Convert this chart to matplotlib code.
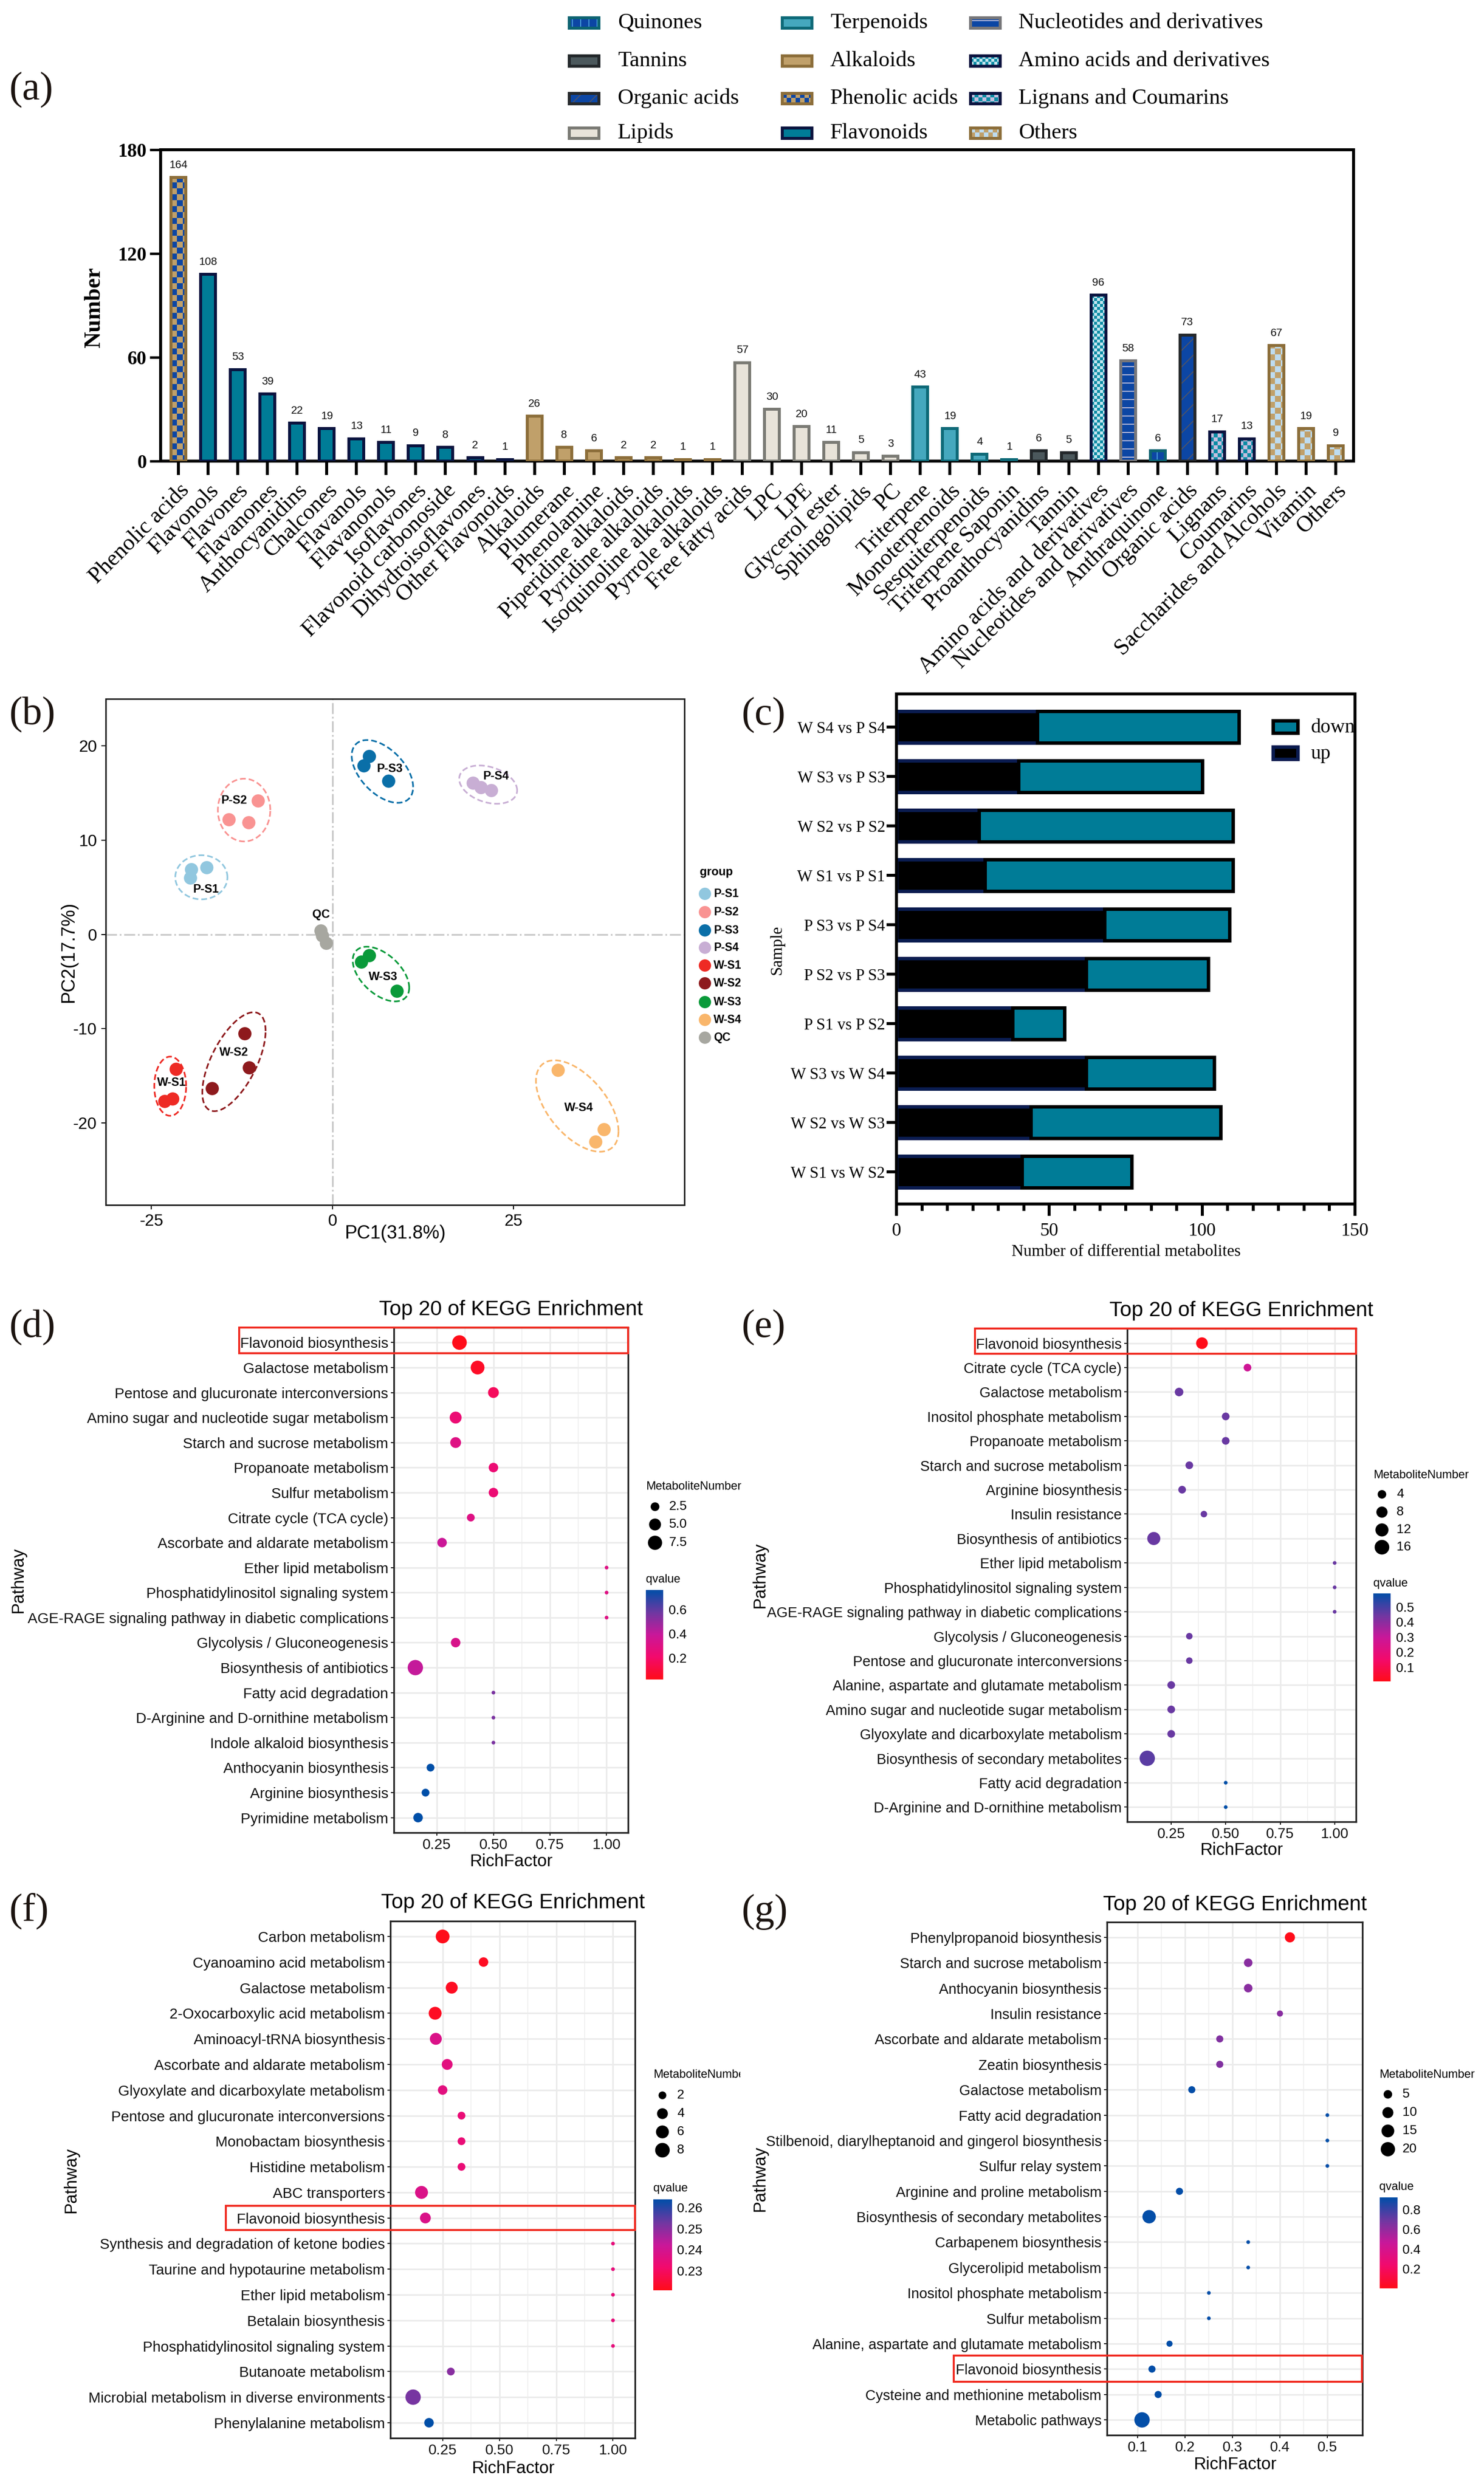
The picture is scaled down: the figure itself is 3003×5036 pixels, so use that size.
import numpy as np
import matplotlib
matplotlib.use("Agg")
import matplotlib.pyplot as plt
from matplotlib.colors import LinearSegmentedColormap
from matplotlib.patches import Rectangle
from matplotlib.transforms import Bbox, ScaledTranslation

W, H = 3003, 5036
SERIF = "Liberation Serif"
SANS = "Liberation Sans"
plt.rcParams["font.family"] = SANS
plt.rcParams["hatch.linewidth"] = 1.3
plt.rcParams["axes.unicode_minus"] = False

# panel (a)
cat_names = ["Phenolic acids", "Flavonols", "Flavones", "Flavanones", "Anthocyanidins", "Chalcones",
             "Flavanols", "Flavanonols", "Isoflavones", "Flavonoid carbonoside", "Dihydroisoflavones",
             "Other Flavonoids", "Alkaloids", "Plumerane", "Phenolamine", "Piperidine alkaloids",
             "Pyridine alkaloids", "Isoquinoline alkaloids", "Pyrrole alkaloids", "Free fatty acids",
             "LPC", "LPE", "Glycerol ester", "Sphingolipids", "PC", "Triterpene", "Monoterpenoids",
             "Sesquiterpenoids", "Triterpene Saponin", "Proanthocyanidins", "Tannin",
             "Amino acids and derivatives", "Nucleotides and derivatives", "Anthraquinone",
             "Organic acids", "Lignans", "Coumarins", "Saccharides and Alcohols", "Vitamin", "Others"]
cat_values = [164, 108, 53, 39, 22, 19, 13, 11, 9, 8, 2, 1, 26, 8, 6, 2, 2, 1, 1, 57,
              30, 20, 11, 5, 3, 43, 19, 4, 1, 6, 5, 96, 58, 6, 73, 17, 13, 67, 19, 9]
cat_class = ["Phenolic acids"] + ["Flavonoids"] * 11 + ["Alkaloids"] * 7 + ["Lipids"] * 6 + \
            ["Terpenoids"] * 4 + ["Tannins"] * 2 + ["Amino acids and derivatives",
            "Nucleotides and derivatives", "Quinones", "Organic acids"] + \
            ["Lignans and Coumarins"] * 2 + ["Others"] * 3

# face, edge, hatch, hatch colour, checker colour, checker cell (px)
class_style = {
    "Quinones": ("#0C46A4", "#0D6472", "|", "#4FA8E0", None, 0),
    "Tannins": ("#4B585C", "#23282B", None, None, None, 0),
    "Organic acids": ("#0C46A4", "#26292C", "/", "#555560", None, 0),
    "Lipids": ("#E8E3D9", "#7A7A74", None, None, None, 0),
    "Terpenoids": ("#45A8BE", "#0E6A78", None, None, None, 0),
    "Alkaloids": ("#C0A06A", "#8C6E3A", None, None, None, 0),
    "Phenolic acids": ("#C0A06A", "#8C6E3A", None, None, "#0C46A4", 12),
    "Flavonoids": ("#007C97", "#0A1440", None, None, None, 0),
    "Nucleotides and derivatives": ("#0C46A4", "#77777A", "-", "#D8D0E4", None, 0),
    "Amino acids and derivatives": ("#0A8CA5", "#0A1440", None, None, "#C6E6F0", 6),
    "Lignans and Coumarins": ("#0A8CA5", "#0A1440", None, None, "#C6BEDE", 8),
    "Others": ("#C0A06A", "#8C6E3A", None, None, "#BEDCF0", 12),
}
legend_a = [["Quinones", "Tannins", "Organic acids", "Lipids"],
            ["Terpenoids", "Alkaloids", "Phenolic acids", "Flavonoids"],
            ["Nucleotides and derivatives", "Amino acids and derivatives", "Lignans and Coumarins", "Others"]]

# panel (b)
pca_groups = ["P-S1", "P-S2", "P-S3", "P-S4", "W-S1", "W-S2", "W-S3", "W-S4", "QC"]
pca_colors = ["#91C7DF", "#F99392", "#0A6FA8", "#C8AED4", "#EE2A24", "#8E1A1D", "#0A9A3A", "#F9B66B", "#A7A7A0"]
pca_x = [[-19.5, -17.4, -19.6], [-10.3, -14.3, -11.6], [5.1, 4.3, 7.7], [19.4, 20.5, 21.9],
         [-21.6, -22.1, -23.2], [-12.1, -11.5, -16.6], [5.1, 4.0, 8.9], [31.1, 37.5, 36.3], [-1.6, -1.4, -0.85]]
pca_y = [[6.9, 7.1, 6.0], [14.2, 12.2, 11.9], [18.9, 17.9, 16.3], [16.1, 15.6, 15.3],
         [-14.3, -17.4, -17.7], [-10.5, -14.1, -16.3], [-2.2, -2.9, -6.0], [-14.4, -20.7, -22.0], [0.4, -0.1, -0.9]]
# ellipse centre, half width, half height, correlation
ell_cx = [-18.1, -12.2, 6.9, 21.5, -22.4, -13.6, 6.7, 33.8]
ell_cy = [6.07, 13.2, 17.3, 15.9, -16.1, -13.5, -4.2, -18.2]
ell_w = [3.6, 3.62, 4.24, 4.0, 2.2, 4.37, 3.9, 5.7]
ell_h = [2.34, 3.33, 3.33, 2.03, 3.14, 5.25, 2.9, 4.85]
ell_rho = [0.0, 0.0, -0.5, -0.3, 0.0, 0.62, -0.5, -0.55]
label_x = [-17.5, -13.6, 7.9, 22.6, -22.2, -13.6, 7.0, 34.0, -1.6]
label_y = [4.8, 14.2, 17.6, 16.8, -15.7, -12.5, -4.5, -18.4, 2.1]

# panel (c)
cmp_names = ["W S1 vs W S2", "W S2 vs W S3", "W S3 vs W S4", "P S1 vs P S2", "P S2 vs P S3",
             "P S3 vs P S4", "W S1 vs P S1", "W S2 vs P S2", "W S3 vs P S3", "W S4 vs P S4"]
cmp_up = [41, 44, 62, 38, 62, 68, 29, 27, 40, 46]
cmp_down = [36, 62, 42, 17, 40, 41, 81, 83, 60, 66]

# panels (d)-(g), pathways listed top to bottom
d_names = ["Flavonoid biosynthesis", "Galactose metabolism", "Pentose and glucuronate interconversions",
           "Amino sugar and nucleotide sugar metabolism", "Starch and sucrose metabolism", "Propanoate metabolism",
           "Sulfur metabolism", "Citrate cycle (TCA cycle)", "Ascorbate and aldarate metabolism",
           "Ether lipid metabolism", "Phosphatidylinositol signaling system",
           "AGE-RAGE signaling pathway in diabetic complications", "Glycolysis / Gluconeogenesis",
           "Biosynthesis of antibiotics", "Fatty acid degradation", "D-Arginine and D-ornithine metabolism",
           "Indole alkaloid biosynthesis", "Anthocyanin biosynthesis", "Arginine biosynthesis", "Pyrimidine metabolism"]
d_rich = [0.35, 0.43, 0.5, 0.333, 0.333, 0.5, 0.5, 0.4, 0.273, 1.0, 1.0, 1.0, 0.333, 0.155, 0.5, 0.5, 0.5, 0.222, 0.2, 0.167]
d_num = [8, 7, 4, 5, 4, 3, 3, 2, 3, 1, 1, 1, 3, 9, 1, 1, 1, 2, 2, 3]
d_q = [0.02, 0.05, 0.17, 0.24, 0.30, 0.24, 0.24, 0.30, 0.38, 0.30, 0.30, 0.30, 0.33, 0.40, 0.55, 0.55, 0.55, 0.76, 0.76, 0.76]

e_names = ["Flavonoid biosynthesis", "Citrate cycle (TCA cycle)", "Galactose metabolism", "Inositol phosphate metabolism",
           "Propanoate metabolism", "Starch and sucrose metabolism", "Arginine biosynthesis", "Insulin resistance",
           "Biosynthesis of antibiotics", "Ether lipid metabolism", "Phosphatidylinositol signaling system",
           "AGE-RAGE signaling pathway in diabetic complications", "Glycolysis / Gluconeogenesis",
           "Pentose and glucuronate interconversions", "Alanine, aspartate and glutamate metabolism",
           "Amino sugar and nucleotide sugar metabolism", "Glyoxylate and dicarboxylate metabolism",
           "Biosynthesis of secondary metabolites", "Fatty acid degradation", "D-Arginine and D-ornithine metabolism"]
e_rich = [0.391, 0.6, 0.286, 0.5, 0.5, 0.333, 0.3, 0.4, 0.17, 1.0, 1.0, 1.0, 0.333, 0.333, 0.25, 0.25, 0.25, 0.14, 0.5, 0.5]
e_num = [9, 3, 4, 3, 3, 3, 3, 2, 12, 1, 1, 1, 2, 2, 3, 3, 3, 18, 1, 1]
e_q = [0.005, 0.28, 0.45, 0.45, 0.45, 0.45, 0.45, 0.45, 0.45, 0.45, 0.45, 0.45, 0.45, 0.45, 0.45, 0.45, 0.45, 0.47, 0.59, 0.59]

f_names = ["Carbon metabolism", "Cyanoamino acid metabolism", "Galactose metabolism", "2-Oxocarboxylic acid metabolism",
           "Aminoacyl-tRNA biosynthesis", "Ascorbate and aldarate metabolism", "Glyoxylate and dicarboxylate metabolism",
           "Pentose and glucuronate interconversions", "Monobactam biosynthesis", "Histidine metabolism", "ABC transporters",
           "Flavonoid biosynthesis", "Synthesis and degradation of ketone bodies", "Taurine and hypotaurine metabolism",
           "Ether lipid metabolism", "Betalain biosynthesis", "Phosphatidylinositol signaling system",
           "Butanoate metabolism", "Microbial metabolism in diverse environments", "Phenylalanine metabolism"]
f_rich = [0.25, 0.43, 0.29, 0.217, 0.22, 0.27, 0.25, 0.333, 0.333, 0.333, 0.157, 0.174, 1.0, 1.0, 1.0, 1.0, 1.0, 0.286, 0.12, 0.19]
f_num = [7, 3, 5, 6, 5, 4, 3, 2, 2, 2, 6, 4, 1, 1, 1, 1, 1, 2, 9, 3]
f_q = [0.221, 0.222, 0.222, 0.222, 0.238, 0.236, 0.236, 0.234, 0.234, 0.234, 0.238, 0.238, 0.235, 0.235, 0.235, 0.235, 0.235, 0.25, 0.252, 0.264]

g_names = ["Phenylpropanoid biosynthesis", "Starch and sucrose metabolism", "Anthocyanin biosynthesis", "Insulin resistance",
           "Ascorbate and aldarate metabolism", "Zeatin biosynthesis", "Galactose metabolism", "Fatty acid degradation",
           "Stilbenoid, diarylheptanoid and gingerol biosynthesis", "Sulfur relay system", "Arginine and proline metabolism",
           "Biosynthesis of secondary metabolites", "Carbapenem biosynthesis", "Glycerolipid metabolism",
           "Inositol phosphate metabolism", "Sulfur metabolism", "Alanine, aspartate and glutamate metabolism",
           "Flavonoid biosynthesis", "Cysteine and methionine metabolism", "Metabolic pathways"]
g_rich = [0.421, 0.333, 0.333, 0.4, 0.273, 0.273, 0.214, 0.5, 0.5, 0.5, 0.188, 0.124, 0.333, 0.333, 0.25, 0.25, 0.167, 0.13, 0.143, 0.109]
g_num = [8, 5, 5, 2, 3, 3, 3, 1, 1, 1, 3, 17, 1, 1, 1, 1, 2, 3, 3, 24]
g_q = [0.0, 0.62, 0.62, 0.62, 0.64, 0.64, 0.91, 0.91, 0.91, 0.91, 0.91, 0.91, 0.91, 0.91, 0.91, 0.91, 0.91, 0.91, 0.91, 0.91]

fig = plt.figure(figsize=(W / 100, H / 100), dpi=100, facecolor="white")


def px_axes(x0, y0, x1, y1):
    return fig.add_axes([x0 / W, 1 - y1 / H, (x1 - x0) / W, (y1 - y0) / H])


def pt(px):
    return px * 0.72


def checker(target, x0, y0, w, h, cw, ch, color, z):
    # alternating cells inside the box, cut off at its far edges
    ncol = int(np.ceil(w / cw))
    nrow = int(np.ceil(h / ch))
    for r in range(nrow):
        for c in range(ncol):
            if (r + c) % 2 == 0:
                target.add_patch(Rectangle((x0 + c * cw, y0 + r * ch), min(cw, w - c * cw), min(ch, h - r * ch),
                                           facecolor=color, linewidth=0, zorder=z))


ov = fig.add_axes([0, 0, 1, 1], zorder=10)
ov.set_xlim(0, W)
ov.set_ylim(H, 0)
ov.axis("off")

for lab, x, y in [("(a)", 19, 182), ("(b)", 19, 1446), ("(c)", 1500, 1447), ("(d)", 19, 2686),
                  ("(e)", 1500, 2686), ("(f)", 19, 3867), ("(g)", 1500, 3869)]:
    ov.text(x, y, lab, family=SERIF, fontsize=58, color="#1c1410", ha="left", va="center")

# (a) bars
ax = px_axes(325, 303, 2739, 933)
xpos = np.arange(len(cat_values))
bar_w = 0.5
px_per_x = (2739 - 325) / 40.2
px_per_y = (933 - 303) / 180
for x, v, c in zip(xpos, cat_values, cat_class):
    face, edge, hatch, hc, check, cell = class_style[c]
    ax.bar(x, v, bar_w, color=face, edgecolor=hc if hc else face, hatch=hatch, linewidth=0, zorder=2)
    if check:
        checker(ax, x - bar_w / 2, 0, bar_w, v, cell / px_per_x, cell / px_per_y, check, 2.5)
    ax.bar(x, v, bar_w, fill=False, edgecolor=edge, linewidth=pt(6), zorder=3)
    ax.text(x, v + 4, str(v), fontsize=16, ha="center", va="bottom", color="#111111")
ax.set_xlim(-0.6, 39.6)
ax.set_ylim(0, 180)
ax.set_yticks([0, 60, 120, 180])
ax.set_yticklabels(["0", "60", "120", "180"], family=SERIF, fontsize=28, fontweight="bold")
ax.set_xticks(xpos)
ax.set_xticklabels(cat_names, family=SERIF, fontsize=33, rotation=45, ha="right", va="top", rotation_mode="anchor")
shift = ScaledTranslation(-7 / 100, 0, fig.dpi_scale_trans)
for lab in ax.get_xticklabels():
    lab.set_transform(lab.get_transform() + shift)
ax.tick_params(axis="x", length=pt(28), width=pt(6), pad=pt(10))
ax.tick_params(axis="y", length=pt(22), width=pt(5), pad=pt(6))
for s in ax.spines.values():
    s.set_linewidth(pt(6))
ov.text(191, 622, "Number", family=SERIF, fontsize=33, fontweight="bold", rotation=90, ha="center", va="center")

swatch_x = [1149, 1580, 1961]
text_x = [1250, 1680, 2061]
row_y = [46, 123, 199, 269]
for col, names in enumerate(legend_a):
    for r, name in enumerate(names):
        face, edge, hatch, hc, check, cell = class_style[name]
        sx, sy = swatch_x[col] + 3, row_y[r] - 10
        ov.add_patch(Rectangle((sx, sy), 60, 21, facecolor=face, edgecolor=hc if hc else face, hatch=hatch, linewidth=0))
        if check:
            checker(ov, sx, sy, 60, 21, min(cell, 9), min(cell, 9), check, 1.5)
        ov.add_patch(Rectangle((sx, sy), 60, 21, fill=False, edgecolor=edge, linewidth=pt(6), zorder=2))
        ov.text(text_x[col], row_y[r], name, family=SERIF, fontsize=32, ha="left", va="center")

# (b) PCA
ax = px_axes(214, 1414, 1385, 2438)
ax.axhline(0, color="#c8c8c8", lw=2.5, ls="-.", zorder=1)
ax.axvline(0, color="#c8c8c8", lw=2.5, ls="-.", zorder=1)
t = np.linspace(0, 2 * np.pi, 200)
for i in range(len(ell_cx)):
    ex = ell_cx[i] + ell_w[i] * np.cos(t)
    ey = ell_cy[i] + ell_h[i] * np.cos(t - np.arccos(ell_rho[i]))
    ax.plot(ex, ey, color=pca_colors[i], lw=2.4, ls=(0, (3.5, 1.8)), zorder=2)
for i, g in enumerate(pca_groups):
    ax.scatter(pca_x[i], pca_y[i], s=370, color=pca_colors[i], linewidths=0, zorder=3)
    ax.text(label_x[i], label_y[i], g, fontsize=17, fontweight="bold", ha="center", va="center", zorder=4)
ax.set_xlim(-31.3, 48.6)
ax.set_ylim(-28.7, 25)
ax.set_xticks([-25, 0, 25])
ax.set_yticks([-20, -10, 0, 10, 20])
ax.tick_params(labelsize=24, length=pt(9), width=pt(2), pad=pt(9))
for s in ax.spines.values():
    s.set_linewidth(pt(3))
    s.set_color("#222222")
ov.text(800, 2496, "PC1(31.8%)", fontsize=27, ha="center", va="center")
ov.text(139, 1926, "PC2(17.7%)", fontsize=27, rotation=90, ha="center", va="center")
ov.text(1416, 1764, "group", fontsize=17, fontweight="bold", ha="left", va="center")
leg_y = [1808, 1845, 1882, 1917, 1953, 1989, 2027, 2063, 2099]
for g, c, y in zip(pca_groups, pca_colors, leg_y):
    ov.scatter([1426], [y], s=320, color=c, linewidths=0)
    ov.text(1444, y, g, fontsize=16.5, fontweight="bold", ha="left", va="center")

# (c) stacked bars
ax = px_axes(1814, 1404, 2742, 2436)
ypos = np.arange(len(cmp_names))
ax.barh(ypos, cmp_up, 0.64, color="black", edgecolor="#0A1C50", linewidth=pt(7), zorder=2)
ax.barh(ypos, cmp_down, 0.64, left=cmp_up, color="#007C97", edgecolor="black", linewidth=pt(7), zorder=2)
ax.set_xlim(0, 150)
ax.set_ylim(-0.65, 9.67)
ax.set_yticks(ypos)
ax.set_yticklabels(cmp_names, family=SERIF, fontsize=23.5)
ax.set_xticks([0, 50, 100, 150])
ax.set_xticklabels(["0", "50", "100", "150"], family=SERIF, fontsize=27)
ax.set_xticks(np.arange(0, 150.1, 50 / 6), minor=True)
ax.tick_params(axis="x", which="major", length=pt(24), width=pt(6), pad=pt(14))
ax.tick_params(axis="x", which="minor", length=pt(14), width=pt(6))
ax.tick_params(axis="y", length=pt(20), width=pt(6), pad=pt(3))
for s in ax.spines.values():
    s.set_linewidth(pt(6))
ov.text(2279, 2533, "Number of differential metabolites", family=SERIF, fontsize=24, ha="center", va="center")
ov.text(1572, 1922, "Sample", family=SERIF, fontsize=24, rotation=90, ha="center", va="center")
ov.add_patch(Rectangle((2576, 1458), 50, 25, facecolor="#007C97", edgecolor="black", linewidth=pt(7)))
ov.add_patch(Rectangle((2576, 1511), 50, 25, facecolor="black", edgecolor="#0A1C50", linewidth=pt(7)))
ov.text(2652, 1472, "down", family=SERIF, fontsize=29, ha="left", va="center")
ov.text(2652, 1525, "up", family=SERIF, fontsize=29, ha="left", va="center")

# (d)-(g) KEGG dot plots
cmap = LinearSegmentedColormap.from_list(
    "qv", ["#FF0D1A", "#F30A6C", "#C9189A", "#6E38A2", "#004FA8"])


def kegg(box, names, rich, num, q, xlim, xticks, xlabels, qlim, qticks, qlabels,
         num_ticks, num_labels, num_range, title_xy, rich_xy, path_xy, leg, red_box, clip_x=None, size=21.3):
    ax = px_axes(*box)
    y = np.arange(len(names))
    ax.set_axisbelow(True)
    ax.grid(True, which="major", color="#ebebeb", lw=pt(3.2))
    ax.set_xticks(xticks)
    ax.set_xticklabels(xlabels)
    ax.set_xticks([(a + b) / 2 for a, b in zip(xticks[:-1], xticks[1:])], minor=True)
    ax.grid(True, which="minor", axis="x", color="#f0f0f0", lw=pt(1.8))
    ax.tick_params(axis="x", which="minor", length=0)

    def dia(n):
        f = (np.asarray(n, dtype=float) - num_range[0]) / (num_range[1] - num_range[0])
        return 7.5 + 23.5 * np.sqrt(f)

    ax.scatter(rich, y, s=pt(dia(num)) ** 2, c=q, cmap=cmap, vmin=qlim[0], vmax=qlim[1], linewidths=0, zorder=3)
    ax.set_xlim(*xlim)
    ax.set_ylim(len(names) - 0.4, -0.6)
    ax.set_yticks(y)
    ax.set_yticklabels(names)
    ax.tick_params(axis="both", which="major", labelsize=size, length=pt(6), width=pt(2), pad=pt(5), colors="#111111")
    for s in ax.spines.values():
        s.set_linewidth(pt(3.4))
        s.set_color("#222222")

    ov.text(title_xy[0], title_xy[1], "Top 20 of KEGG Enrichment", fontsize=30.5, ha="center", va="center")
    ov.text(rich_xy[0], rich_xy[1], "RichFactor", fontsize=25, ha="center", va="center")
    ov.text(path_xy[0], path_xy[1], "Pathway", fontsize=25, rotation=90, ha="center", va="center")

    # size legend and colour bar
    tx, ty, dx, text_x, dy, qy, bar = leg
    label = ov.text(tx, ty, "MetaboliteNumber", fontsize=17, ha="left", va="center")
    if clip_x:
        label.set_clip_box(Bbox([[0, 0], [clip_x, H]]))
        label.set_clip_on(True)
    for n, lab, yy in zip(num_ticks, num_labels, dy):
        ov.scatter([dx], [yy], s=pt(dia(n)) ** 2, color="black", linewidths=0)
        ov.text(text_x, yy, lab, fontsize=19, ha="left", va="center")
    ov.text(tx, qy, "qvalue", fontsize=17, ha="left", va="center")
    cb = px_axes(*bar)
    cb.imshow(np.linspace(1, 0, 256)[:, None], cmap=cmap, aspect="auto", extent=[0, 1, qlim[0], qlim[1]])
    cb.set_xticks([])
    cb.yaxis.tick_right()
    cb.set_yticks(qticks)
    cb.set_yticklabels(qlabels)
    cb.tick_params(axis="y", labelsize=19, length=0, pad=pt(11))
    for s in cb.spines.values():
        s.set_visible(False)

    ov.add_patch(Rectangle((red_box[0], red_box[1]), red_box[2] - red_box[0], red_box[3] - red_box[1],
                           fill=False, edgecolor="#F02A20", linewidth=pt(4)))


kegg((797, 2686, 1271, 3708), d_names, d_rich, d_num, d_q, (0.06, 1.095), [0.25, 0.5, 0.75, 1.0],
     ["0.25", "0.50", "0.75", "1.00"], (0.02, 0.7625), [0.2, 0.4, 0.6], ["0.2", "0.4", "0.6"],
     [2.5, 5.0, 7.5], ["2.5", "5.0", "7.5"], (1, 9), (1034, 2650), (1034, 3766), (37, 3197),
     (1307, 3008, 1325, 1354, [3048, 3084, 3121], 3196, (1307, 3217, 1342, 3398)), (484, 2686, 1271, 2738))
kegg((2281, 2688, 2744, 3686), e_names, e_rich, e_num, e_q, (0.048, 1.098), [0.25, 0.5, 0.75, 1.0],
     ["0.25", "0.50", "0.75", "1.00"], (0.005, 0.59), [0.1, 0.2, 0.3, 0.4, 0.5], ["0.1", "0.2", "0.3", "0.4", "0.5"],
     [4, 8, 12, 16], ["4", "8", "12", "16"], (1, 18), (2512, 2652), (2512, 3743), (1538, 3187),
     (2779, 2985, 2796, 2826, [3023, 3059, 3095, 3130], 3204, (2779, 3224, 2814, 3402)), (1973, 2688, 2744, 2739),
     size=21)
kegg((790, 3887, 1285, 4933), f_names, f_rich, f_num, f_q, (0.02, 1.097), [0.25, 0.5, 0.75, 1.0],
     ["0.25", "0.50", "0.75", "1.00"], (0.2207, 0.2639), [0.23, 0.24, 0.25, 0.26], ["0.23", "0.24", "0.25", "0.26"],
     [2, 4, 6, 8], ["2", "4", "6", "8"], (1, 9), (1038, 3850), (1038, 4994), (144, 4411),
     (1322, 4198, 1340, 1370, [4239, 4276, 4313, 4350], 4428, (1322, 4450, 1359, 4634)), (457, 4463, 1285, 4512),
     clip_x=1498)
kegg((2240, 3889, 2757, 4927), g_names, g_rich, g_num, g_q, (0.035, 0.574), [0.1, 0.2, 0.3, 0.4, 0.5],
     ["0.1", "0.2", "0.3", "0.4", "0.5"], (0.0, 0.92), [0.2, 0.4, 0.6, 0.8], ["0.2", "0.4", "0.6", "0.8"],
     [5, 10, 15, 20], ["5", "10", "15", "20"], (1, 24), (2499, 3854), (2499, 4986), (1538, 4408),
     (2791, 4198, 2808, 2838, [4237, 4274, 4311, 4348], 4425, (2792, 4446, 2827, 4630)), (1930, 4766, 2756, 4819),
     size=21)

fig.savefig("out.png", dpi=100, facecolor="white")
